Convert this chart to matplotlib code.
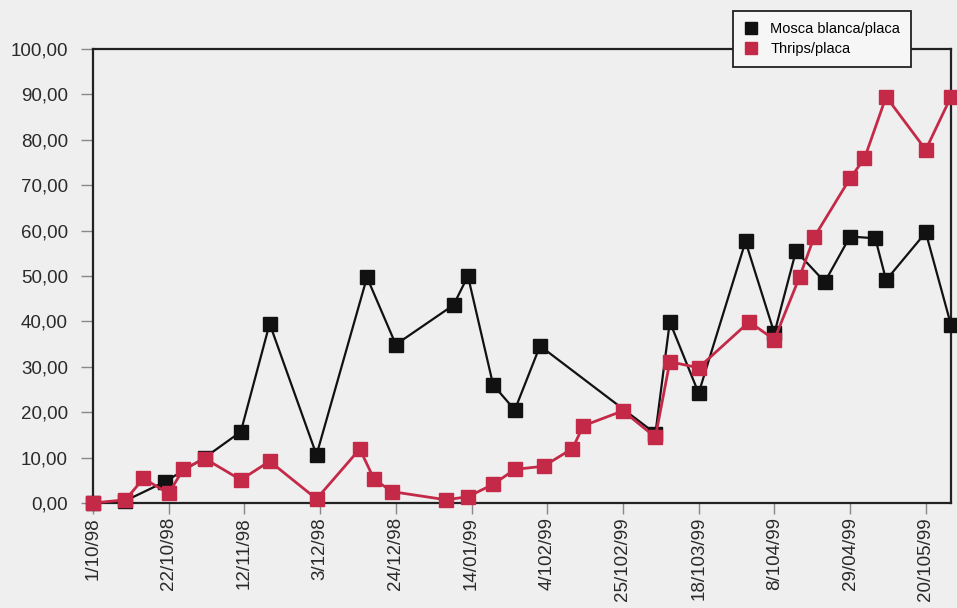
import matplotlib.pyplot as plt
from matplotlib.lines import Line2D

# days counted from 1/10/98
mosca_days = [0, 9, 20, 31, 41, 49, 62, 76, 84, 100, 104, 111, 117, 124,
              156, 160, 168, 181, 189, 195, 203, 210, 217, 220, 231, 238]
mosca = [0, 0.5, 4.7, 10.0, 15.7, 39.5, 10.6, 49.7, 34.9, 43.6, 50.0, 26.0,
         20.5, 34.6, 15.3, 39.9, 24.2, 57.6, 37.4, 55.5, 48.7, 58.7, 58.3, 49.1,
         59.6, 39.2]

thrips_days = [0, 9, 14, 21, 25, 31, 41, 49, 62, 74, 78, 83, 98, 104, 111, 117,
               125, 133, 136, 147, 156, 160, 168, 182, 189, 196, 200, 210, 214,
               220, 231, 238]
thrips = [0, 0.7, 5.4, 2.1, 7.4, 9.8, 5.1, 9.2, 0.9, 11.9, 5.2, 2.5, 0.7, 1.4,
          4.1, 7.4, 8.1, 12.0, 17.0, 20.3, 14.5, 31.1, 29.8, 39.9, 36.0, 49.8,
          58.5, 71.5, 75.9, 89.5, 77.8, 89.5]

tick_days = [0, 21, 42, 63, 84, 105, 126, 147, 168, 189, 210, 231]
tick_labels = ['1/10/98', '22/10/98', '12/11/98', '3/12/98', '24/12/98', '14/01/99',
               '4/102/99', '25/102/99', '18/103/99', '8/104/99', '29/04/99', '20/105/99']

bg = '#efefef'
red = '#c42a48'

fig = plt.figure(figsize=(9.57, 6.08), dpi=100, facecolor=bg)
ax = fig.add_axes([93 / 957, 1 - 503 / 608, (951 - 93) / 957, (503 - 49) / 608])
ax.set_facecolor(bg)

ax.plot(mosca_days, mosca, color='#111111', lw=1.6, marker='s', ms=10.5,
        mfc='#111111', mec='#111111', clip_on=False, zorder=3)
ax.plot(thrips_days, thrips, color=red, lw=2.0, marker='s', ms=10.5,
        mfc=red, mec=red, clip_on=False, zorder=4)

ax.set_xlim(0, 238)
ax.set_ylim(0, 100)
ax.set_yticks(range(0, 101, 10))
ax.set_yticklabels([f'{v},00' for v in range(0, 101, 10)])
ax.set_xticks(tick_days)
ax.set_xticklabels(tick_labels, rotation=90)

for s in ax.spines.values():
    s.set_linewidth(1.6)
    s.set_color('#222222')

ax.tick_params(axis='y', length=9, width=1, color='#888888', pad=9,
               labelsize=13.5, labelcolor='#2a2a2a')
ax.tick_params(axis='x', length=8, width=1, color='#888888', pad=2,
               labelsize=13.5, labelcolor='#2a2a2a')
for t in ax.get_xticklabels() + ax.get_yticklabels():
    t.set_family(['Liberation Sans', 'DejaVu Sans'])

handles = [Line2D([], [], ls='none', marker='s', ms=9, color='#111111'),
           Line2D([], [], ls='none', marker='s', ms=9, color=red)]
leg = fig.legend(handles, ['Mosca blanca/placa', 'Thrips/placa'],
                 loc='upper left', bbox_to_anchor=(733 / 957, 1 - 11 / 608),
                 frameon=True, fancybox=False, facecolor='#f6f6f6',
                 edgecolor='#222222', framealpha=1, handlelength=1.0,
                 handletextpad=0.8, borderpad=0.75, borderaxespad=0,
                 labelspacing=0.4,
                 prop={'family': ['Liberation Sans', 'DejaVu Sans'], 'size': 10.5})
leg.get_frame().set_linewidth(1.3)
leg.set_zorder(10)

fig.savefig('out.png', dpi=100, facecolor=bg)
